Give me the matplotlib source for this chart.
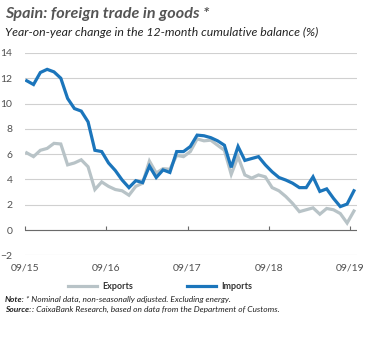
import numpy as np
import matplotlib
matplotlib.use("Agg")
import matplotlib.pyplot as plt

# ---- data ----
tick_labels = ["09/15", "09/16", "09/17", "09/18", "09/19"]
exports = [6.1, 5.8, 6.3, 6.45, 6.85, 6.8, 5.15, 5.3, 5.55, 5.0,
           3.2, 3.8, 3.45, 3.2, 3.1, 2.75, 3.45, 3.7, 5.45, 4.5,
           4.85, 4.8, 5.9, 5.8, 6.2, 7.2, 7.05, 7.1, 6.7, 6.3,
           4.4, 5.8, 4.35, 4.1, 4.35, 4.2, 3.35, 3.1, 2.65, 2.1,
           1.45, 1.6, 1.75, 1.25, 1.7, 1.6, 1.3, 0.55, 1.5]
imports = [11.8, 11.5, 12.45, 12.7, 12.5, 12.0, 10.4, 9.6, 9.4, 8.55,
           6.3, 6.2, 5.3, 4.7, 3.95, 3.35, 3.9, 3.75, 5.05, 4.15,
           4.75, 4.55, 6.2, 6.2, 6.6, 7.5, 7.45, 7.3, 7.05, 6.7,
           4.95, 6.6, 5.5, 5.65, 5.8, 5.15, 4.6, 4.15, 3.95, 3.7,
           3.35, 3.35, 4.2, 3.05, 3.25, 2.5, 1.85, 2.05, 3.1]
series_names = ["Exports", "Imports"]

FONT = ["Lato", "DejaVu Sans"]
plt.rcParams["font.family"] = FONT

GRAY = "#b8c3c7"
BLUE = "#1b75bb"
TXT = "#505050"

fig = plt.figure(figsize=(3.72, 3.38), dpi=100)
ax = fig.add_axes([25 / 372, 1 - 255.3 / 338, 332 / 372, (255.3 - 52.9) / 338])

x = np.arange(len(exports))
ax.plot(x, exports, color=GRAY, lw=2.3, label=series_names[0], solid_joinstyle="miter", zorder=3)
ax.plot(x, imports, color=BLUE, lw=2.3, label=series_names[1], solid_joinstyle="miter", zorder=4)

ax.set_xlim(-0.25, 48.45)
ax.set_ylim(-2, 14)
ax.set_yticks(np.arange(-2, 15, 2))
ax.grid(axis="y", color="#d0d0d0", lw=0.8)
ax.set_axisbelow(True)
for s in ax.spines.values():
    s.set_visible(False)
ax.tick_params(axis="y", length=0, pad=9, labelsize=7.5, labelcolor=TXT)

tick_pos = np.arange(len(tick_labels)) * 11.92 - 0.25
ax.set_xticks(tick_pos)
ax.set_xticklabels(tick_labels)
ax.tick_params(axis="x", length=0, pad=6, labelsize=7.5, labelcolor=TXT)

# zero line with ticks
ax.axhline(0, color="#6a6a6a", lw=0.8, zorder=2)
sec = ax.secondary_xaxis(2 / 16)
sec.set_xticks(tick_pos)
sec.set_xticklabels([])
sec.tick_params(axis="x", direction="in", length=3, width=0.8, color="#6a6a6a")
for s in sec.spines.values():
    s.set_visible(False)

# titles
fig.text(5 / 372, 1 - 14 / 338, "Spain: foreign trade in goods *", fontsize=11.6,
         fontweight="bold", fontstyle="italic", color="#555555", va="center", ha="left")
fig.text(5 / 372, 1 - 32 / 338, "Year-on-year change in the 12-month cumulative balance (%)",
         fontsize=8.8, fontstyle="italic", color="#222222", va="center", ha="left")

# legend
leg = fig.legend(handles=ax.get_lines(), labels=series_names, loc="center",
                 bbox_to_anchor=(0.43, 1 - 286.5 / 338), ncol=2, frameon=False,
                 fontsize=6.5, handlelength=3.2, columnspacing=6, handletextpad=0.6)
for t in leg.get_texts():
    t.set_color("#333333")
    t.set_fontweight("bold")

# notes
fig.text(5 / 372, 1 - 299 / 338, r"Note:", fontsize=6.0, fontweight="bold",
         fontstyle="italic", color="#222222", va="center", ha="left")
fig.text(26 / 372, 1 - 299 / 338, "* Nominal data, non-seasonally adjusted. Excluding energy.",
         fontsize=6.0, fontstyle="italic", color="#222222", va="center", ha="left")
fig.text(5 / 372, 1 - 309.5 / 338, "Source:", fontsize=6.0, fontweight="bold",
         fontstyle="italic", color="#222222", va="center", ha="left")
fig.text(32 / 372, 1 - 309.5 / 338, ": CaixaBank Research, based on data from the Department of Customs.",
         fontsize=6.0, fontstyle="italic", color="#222222", va="center", ha="left")

fig.savefig("out.png", dpi=100)
